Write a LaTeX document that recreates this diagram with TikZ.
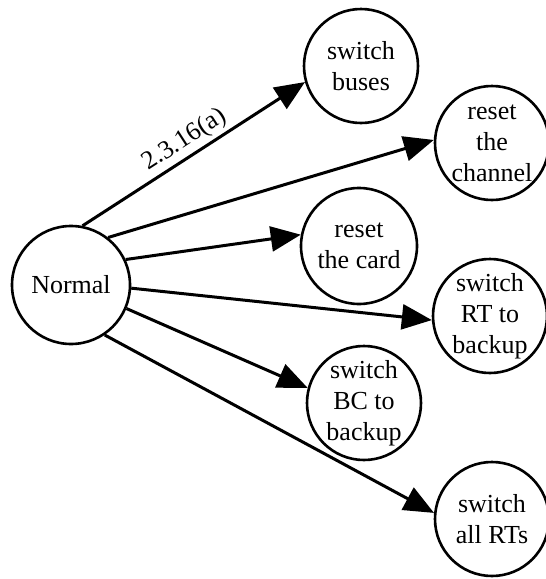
\documentclass[tikz,border=0pt]{standalone}
\usepackage{fontspec}
\setmainfont{Liberation Serif}
\usetikzlibrary{arrows.meta}
\begin{document}
\begin{tikzpicture}[x=1pt,y=-1pt,
  st/.style={circle,draw,line width=2.6pt,inner sep=0pt,minimum size=114pt,align=center,font=\fontsize{26}{31}\selectfont},
  edge/.style={line width=3pt,-{Triangle[length=30pt,width=25pt]}},
  lbl/.style={font=\fontsize{26}{31}\selectfont,sloped,above}]
\useasboundingbox (0,0) rectangle (546,579);
\node[st,minimum size=118pt] (normal) at (71,285) {Normal};
\node[st] (buses) at (361,66) {switch\\buses};
\node[st] (channel) at (492,143) {reset\\the\\channel};
\node[st,minimum size=116pt] (card) at (359,246) {reset\\the card};
\node[st] (rt) at (490,316) {switch\\RT to\\backup};
\node[st] (bc) at (364,403) {switch\\BC to\\backup};
\node[st] (all) at (492,519) {switch\\all RTs};
\draw[edge] (normal.79.6) -- node[lbl,pos=0.5] {2.3.16(a)} (buses.196.3);
\draw[edge] (normal.52.5) -- (channel.177);
\draw[edge] (normal.25.7) -- (card.169.4);
\draw[edge] (normal.-3.9) -- (rt.184);
\draw[edge] (normal.-23) -- (bc.165);
\draw[edge] (normal.-56.8) -- (all.174);
\end{tikzpicture}
\end{document}
